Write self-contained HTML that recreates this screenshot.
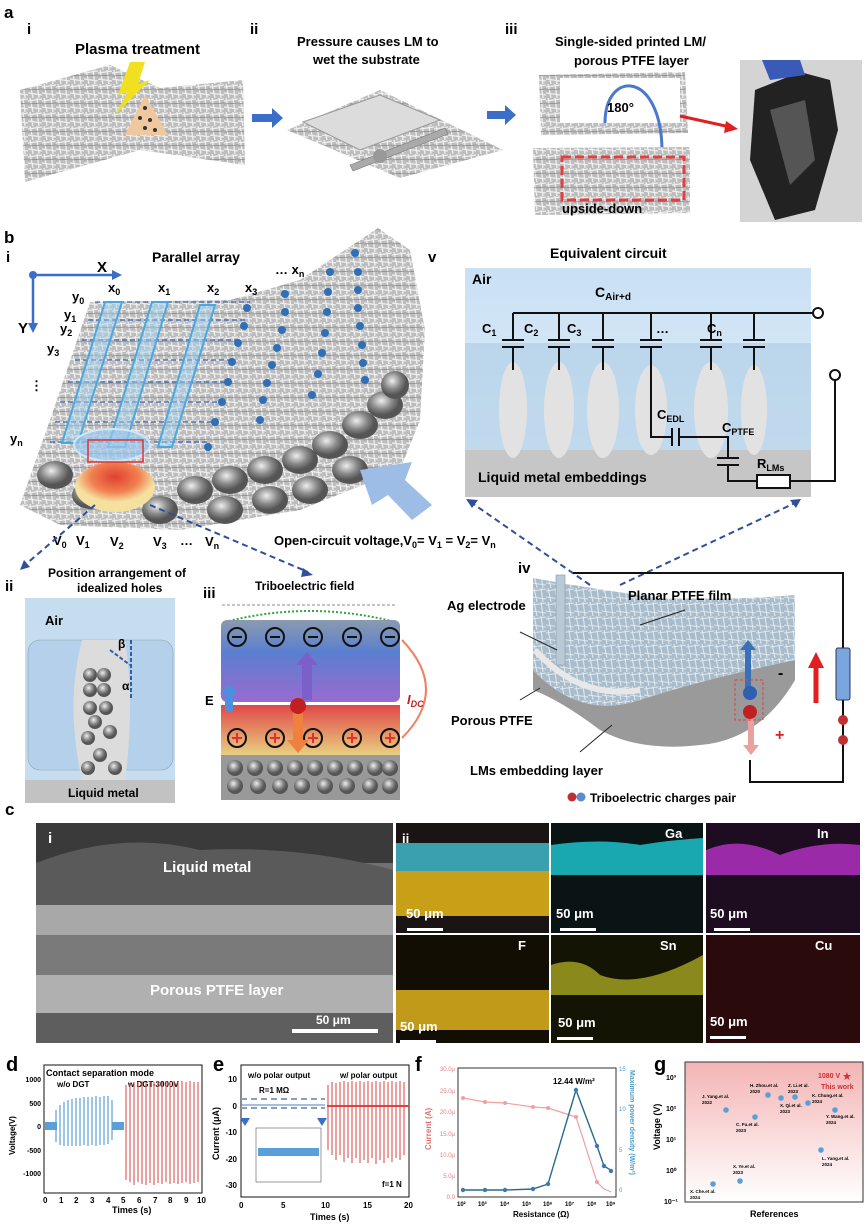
<!DOCTYPE html>
<html><head><meta charset="utf-8"><style>
body{margin:0;background:#fff;width:866px;height:1225px;overflow:hidden}
svg{display:block}
text{font-family:"Liberation Sans",sans-serif}
</style></head><body>
<svg width="866" height="1225" viewBox="0 0 866 1225" xmlns="http://www.w3.org/2000/svg">
<defs>
<pattern id="fib" width="14" height="14" patternUnits="userSpaceOnUse">
<rect width="14" height="14" fill="#bdbdbd"/>
<path d="M0 3L14 1M0 9L14 11M2 0L5 14M9 0L11 14" stroke="#efefef" stroke-width="1.3"/>
<path d="M0 6L14 5" stroke="#888" stroke-width="0.8"/>
</pattern>
<pattern id="fibb" width="14" height="14" patternUnits="userSpaceOnUse">
<rect width="14" height="14" fill="#a9bccb"/>
<path d="M0 3L14 1M0 9L14 11M2 0L5 14M9 0L11 14" stroke="#dfe8ef" stroke-width="1.1"/>
</pattern>
<linearGradient id="air" x1="0" y1="0" x2="0" y2="1"><stop offset="0" stop-color="#c9e0f3"/><stop offset="1" stop-color="#e6f1fa"/></linearGradient>
<linearGradient id="tt" x1="0" y1="0" x2="0" y2="1"><stop offset="0" stop-color="#8a9ab0"/><stop offset="0.4" stop-color="#5a7fd0"/><stop offset="1" stop-color="#9a6ad0"/></linearGradient>
<linearGradient id="tb" x1="0" y1="0" x2="0" y2="1"><stop offset="0" stop-color="#e04848"/><stop offset="1" stop-color="#e8d080"/></linearGradient>
<linearGradient id="pinkbg" x1="0" y1="0" x2="0" y2="1"><stop offset="0" stop-color="#f4b4b4"/><stop offset="1" stop-color="#fff"/></linearGradient>
<radialGradient id="hot" cx="0.5" cy="0.3"><stop offset="0" stop-color="#e04030"/><stop offset="0.6" stop-color="#f08050"/><stop offset="1" stop-color="#f5e0a0"/></radialGradient>
<radialGradient id="sph" cx="0.4" cy="0.35"><stop offset="0" stop-color="#eee"/><stop offset="0.6" stop-color="#888"/><stop offset="1" stop-color="#555"/></radialGradient>
</defs>

<!-- ===== a ===== -->
<text x="4" y="18" font-size="17" font-weight="bold">a</text>
<text x="27" y="34" font-size="15" font-weight="bold">i</text>
<text x="250" y="34" font-size="15" font-weight="bold">ii</text>
<text x="505" y="34" font-size="15" font-weight="bold">iii</text>
<text x="75" y="54" font-size="15" font-weight="bold">Plasma treatment</text>
<text x="297" y="46" font-size="13" font-weight="bold">Pressure causes LM to</text>
<text x="313" y="64" font-size="13" font-weight="bold">wet the substrate</text>
<text x="555" y="46" font-size="13" font-weight="bold">Single-sided printed LM/</text>
<text x="574" y="65" font-size="13" font-weight="bold">porous PTFE layer</text>
<polygon points="20,90 110,65 160,88 243,80 245,165 140,150 25,182" fill="url(#fib)"/>
<polygon points="130,62 118,95 128,92 115,115 150,80 138,84 145,62" fill="#f0e020"/>
<polygon points="125,135 145,95 168,135" fill="#efc8a0"/>
<g fill="#333"><circle cx="145" cy="108" r="2"/><circle cx="140" cy="118" r="2"/><circle cx="150" cy="120" r="2"/><circle cx="145" cy="128" r="2"/><circle cx="155" cy="130" r="2"/></g>
<polygon points="252,114 272,114 272,108 283,118 272,128 272,122 252,122" fill="#3a6ec8"/>
<polygon points="287,130 380,90 503,150 400,178" fill="url(#fib)"/>
<polygon points="303,122 380,95 440,120 360,150" fill="#dcdcdc" stroke="#999"/>
<polygon points="350,165 445,128 448,134 353,171" fill="#aaa" stroke="#777" stroke-width="0.6"/>
<circle cx="380" cy="156" r="7" fill="#999"/>
<polygon points="487,111 505,111 505,105 516,115 505,125 505,119 487,119" fill="#3a6ec8"/>
<polygon points="539,75 685,72 688,133 541,135" fill="url(#fib)"/>
<rect x="560" y="78" width="120" height="45" fill="#fff"/>
<path d="M605 123 C605 70 660 70 662 148" stroke="#4a78cc" stroke-width="3" fill="none"/>
<text x="607" y="112" font-size="13" font-weight="bold">180°</text>
<polygon points="533,148 690,147 690,213 535,215" fill="url(#fib)"/>
<rect x="562" y="157" width="122" height="43" fill="none" stroke="#e04040" stroke-width="3" stroke-dasharray="9 4"/>
<text x="562" y="213" font-size="13" font-weight="bold">upside-down</text>
<path d="M680 116 L730 127" stroke="#e02020" stroke-width="3"/>
<polygon points="738,129 726,121 724,133" fill="#e02020"/>
<rect x="740" y="60" width="122" height="162" fill="#d4d4d4"/>
<polygon points="755,90 800,72 830,80 838,130 815,210 775,220 750,160" fill="#222"/>
<polygon points="770,110 805,100 815,160 790,185" fill="#555"/>
<polygon points="762,60 800,60 805,75 770,80" fill="#3a5ab8"/>

<!-- ===== b ===== -->
<text x="4" y="243" font-size="17" font-weight="bold">b</text>
<text x="6" y="262" font-size="15" font-weight="bold">i</text>
<text x="152" y="262" font-size="14" font-weight="bold">Parallel array</text>
<text x="428" y="262" font-size="15" font-weight="bold">v</text>
<polygon points="90,302 230,300 300,280 378,228 410,250 425,330 420,420 400,470 300,510 180,530 60,525 20,505 50,420" fill="url(#fib)"/>
<g fill="url(#sph)">
<ellipse cx="55" cy="475" rx="18" ry="14"/><ellipse cx="90" cy="495" rx="18" ry="14"/><ellipse cx="195" cy="490" rx="18" ry="14"/><ellipse cx="230" cy="480" rx="18" ry="14"/><ellipse cx="265" cy="470" rx="18" ry="14"/><ellipse cx="300" cy="460" rx="18" ry="14"/><ellipse cx="330" cy="445" rx="18" ry="14"/><ellipse cx="360" cy="425" rx="18" ry="14"/><ellipse cx="385" cy="405" rx="18" ry="14"/><ellipse cx="395" cy="385" rx="14" ry="14"/>
<ellipse cx="160" cy="510" rx="18" ry="14"/><ellipse cx="225" cy="510" rx="18" ry="14"/><ellipse cx="270" cy="500" rx="18" ry="14"/><ellipse cx="310" cy="490" rx="18" ry="14"/><ellipse cx="350" cy="470" rx="18" ry="14"/>
</g>
<g fill="#2f6fb5">
<circle cx="247" cy="308" r="4"/><circle cx="244" cy="326" r="4"/><circle cx="238" cy="343" r="4"/><circle cx="232" cy="362" r="4"/><circle cx="228" cy="382" r="4"/><circle cx="222" cy="402" r="4"/><circle cx="215" cy="422" r="4"/><circle cx="208" cy="447" r="4"/>
<circle cx="285" cy="294" r="4"/><circle cx="285" cy="312" r="4"/><circle cx="282" cy="330" r="4"/><circle cx="277" cy="348" r="4"/><circle cx="272" cy="365" r="4"/><circle cx="267" cy="383" r="4"/><circle cx="263" cy="400" r="4"/><circle cx="260" cy="420" r="4"/>
<circle cx="330" cy="272" r="4"/><circle cx="328" cy="292" r="4"/><circle cx="327" cy="312" r="4"/><circle cx="325" cy="333" r="4"/><circle cx="322" cy="353" r="4"/><circle cx="318" cy="374" r="4"/><circle cx="312" cy="395" r="4"/>
<circle cx="355" cy="253" r="4"/><circle cx="358" cy="272" r="4"/><circle cx="358" cy="290" r="4"/><circle cx="358" cy="308" r="4"/><circle cx="360" cy="326" r="4"/><circle cx="362" cy="345" r="4"/><circle cx="363" cy="363" r="4"/><circle cx="365" cy="380" r="4"/>
</g>
<g stroke="#3a60b0" stroke-width="1.2" stroke-dasharray="5 3" fill="none">
<path d="M95 302 H250 M88 320 H245 M82 340 H240 M75 360 H235 M68 382 H228 M60 402 H222 M55 422 H215 M50 442 H210"/>
</g>
<g fill="#9fd2f5" fill-opacity="0.45" stroke="#4aa8e0" stroke-width="2">
<polygon points="105,302 122,302 78,443 62,443"/>
<polygon points="152,302 168,302 125,447 108,447"/>
<polygon points="200,305 215,305 172,447 158,447"/>
</g>
<ellipse cx="115" cy="487" rx="40" ry="25" fill="url(#hot)"/>
<ellipse cx="112" cy="445" rx="38" ry="16" fill="#9ac8ee" fill-opacity="0.7" stroke="#cfe6f7" stroke-width="2"/>
<rect x="88" y="440" width="55" height="22" fill="none" stroke="#e03030" stroke-width="1.5"/>
<path d="M33 275 V325 M33 275 H115" stroke="#3a6ec8" stroke-width="2.5"/>
<polygon points="122,275 112,270 112,280" fill="#3a6ec8"/><polygon points="33,333 28,323 38,323" fill="#3a6ec8"/>
<circle cx="33" cy="275" r="4" fill="#3a6ec8"/>
<text x="97" y="272" font-size="15" font-weight="bold">X</text>
<text x="18" y="333" font-size="15" font-weight="bold">Y</text>
<g font-size="13" font-weight="bold"><text x="72" y="301">y<tspan font-size="9" dy="3">0</tspan></text><text x="108" y="292">x<tspan font-size="9" dy="3">0</tspan></text><text x="64" y="319">y<tspan font-size="9" dy="3">1</tspan></text><text x="60" y="333">y<tspan font-size="9" dy="3">2</tspan></text><text x="47" y="353">y<tspan font-size="9" dy="3">3</tspan></text><text x="10" y="443">y<tspan font-size="9" dy="3">n</tspan></text><text x="30" y="390">⋮</text>
<text x="158" y="292">x<tspan font-size="9" dy="3">1</tspan></text><text x="207" y="292">x<tspan font-size="9" dy="3">2</tspan></text><text x="245" y="292">x<tspan font-size="9" dy="3">3</tspan></text><text x="275" y="274">… x<tspan font-size="9" dy="3">n</tspan></text>
<text x="53" y="545">V<tspan font-size="9" dy="3">0</tspan></text><text x="76" y="545">V<tspan font-size="9" dy="3">1</tspan></text><text x="110" y="546">V<tspan font-size="9" dy="3">2</tspan></text><text x="153" y="546">V<tspan font-size="9" dy="3">3</tspan></text><text x="180" y="545">…</text><text x="205" y="546">V<tspan font-size="9" dy="3">n</tspan></text></g>
<text x="274" y="545" font-size="13" font-weight="bold">Open-circuit voltage,V<tspan font-size="9" dy="3">0</tspan><tspan dy="-3">= V</tspan><tspan font-size="9" dy="3">1</tspan><tspan dy="-3"> = V</tspan><tspan font-size="9" dy="3">2</tspan><tspan dy="-3">= V</tspan><tspan font-size="9" dy="3">n</tspan></text>
<polygon points="360,470 412,462 405,480 432,505 412,520 388,495 372,505" fill="#9dbde6"/>

<!-- circuit -->
<text x="550" y="258" font-size="14" font-weight="bold">Equivalent circuit</text>
<rect x="465" y="268" width="346" height="229" fill="url(#air)"/>
<rect x="465" y="343" width="346" height="107" fill="#a8c8e4" opacity="0.55"/>
<rect x="465" y="450" width="346" height="47" fill="#c6c6c6"/>
<g fill="#e2e2e2">
<ellipse cx="513" cy="410" rx="14" ry="48"/><ellipse cx="559" cy="410" rx="15" ry="48"/><ellipse cx="603" cy="410" rx="16" ry="48"/><ellipse cx="651" cy="410" rx="16" ry="45"/><ellipse cx="711" cy="410" rx="17" ry="48"/><ellipse cx="754" cy="410" rx="13" ry="45"/>
</g>
<text x="472" y="284" font-size="14" font-weight="bold">Air</text>
<text x="595" y="297" font-size="14" font-weight="bold">C<tspan font-size="10" dy="3">Air+d</tspan></text>
<text x="478" y="482" font-size="14" font-weight="bold">Liquid metal embeddings</text>
<g stroke="#111" stroke-width="2" fill="none">
<path d="M513 313 H813"/><circle cx="818" cy="313" r="5" fill="#fff"/>
<path d="M513 313 V340 M559 313 V340 M603 313 V340 M651 313 V340 M711 313 V340 M754 313 V340"/>
<path d="M513 347 V370 M559 347 V370 M603 347 V370 M711 347 V370 M754 347 V370"/>
<path d="M502 340 h22 M502 347 h22 M548 340 h22 M548 347 h22 M592 340 h22 M592 347 h22 M640 340 h22 M640 347 h22 M700 340 h22 M700 347 h22 M743 340 h22 M743 347 h22"/>
<path d="M651 347 V437 H672 M679 437 H728 V458"/>
<path d="M672 428 v18 M679 428 v18"/>
<path d="M717 458 h22 M717 465 h22 M728 465 V481 H757 M790 481 H835 V380"/>
<rect x="757" y="475" width="33" height="13" fill="#fff"/>
<circle cx="835" cy="375" r="5" fill="#fff"/>
</g>
<g font-size="13" font-weight="bold"><text x="482" y="333">C<tspan font-size="9" dy="3">1</tspan></text><text x="524" y="333">C<tspan font-size="9" dy="3">2</tspan></text><text x="567" y="333">C<tspan font-size="9" dy="3">3</tspan></text><text x="656" y="333">…</text><text x="707" y="333">C<tspan font-size="9" dy="3">n</tspan></text>
<text x="657" y="419">C<tspan font-size="9" dy="3">EDL</tspan></text><text x="722" y="432">C<tspan font-size="9" dy="3">PTFE</tspan></text><text x="757" y="468">R<tspan font-size="9" dy="3">LMs</tspan></text></g>
<g stroke="#2f4f9a" stroke-width="2" stroke-dasharray="6 4" fill="none">
<path d="M590 585 L472 503"/><path d="M620 585 L795 503"/>
<path d="M95 505 L25 565"/><path d="M150 505 L308 572"/>
</g>
<polygon points="466,499 478,500 472,508" fill="#2f4f9a"/><polygon points="801,499 790,500 796,508" fill="#2f4f9a"/>
<polygon points="20,570 24,560 30,567" fill="#2f4f9a"/><polygon points="313,575 303,568 301,577" fill="#2f4f9a"/>

<!-- ii -->
<text x="5" y="591" font-size="15" font-weight="bold">ii</text>
<text x="48" y="577" font-size="12" font-weight="bold">Position arrangement of</text>
<text x="77" y="592" font-size="12" font-weight="bold">idealized holes</text>
<rect x="25" y="598" width="150" height="205" fill="#c6ddf0"/>
<rect x="25" y="780" width="150" height="23" fill="#c2c2c2"/>
<rect x="28" y="640" width="145" height="130" rx="12" fill="#b4d0ea" stroke="#8aa" stroke-width="0.6"/>
<path d="M82 640 Q65 705 82 780 L125 780 Q135 705 125 640 Z" fill="#dcdcdc"/>
<g fill="url(#sph)"><circle cx="90" cy="675" r="7"/><circle cx="104" cy="675" r="7"/><circle cx="90" cy="690" r="7"/><circle cx="104" cy="690" r="7"/><circle cx="90" cy="708" r="7"/><circle cx="106" cy="708" r="7"/><circle cx="95" cy="722" r="7"/><circle cx="110" cy="732" r="7"/><circle cx="88" cy="738" r="7"/><circle cx="100" cy="755" r="7"/><circle cx="88" cy="768" r="7"/><circle cx="115" cy="768" r="7"/></g>
<path d="M131 640 V700 M110 650 L130 665" stroke="#2f5fa5" stroke-width="2" stroke-dasharray="4 2"/>
<text x="45" y="625" font-size="13" font-weight="bold">Air</text>
<text x="68" y="797" font-size="12" font-weight="bold">Liquid metal</text>
<text x="118" y="648" font-size="12" font-weight="bold">β</text><text x="122" y="690" font-size="12" font-weight="bold">α</text>
<!-- iii -->
<text x="203" y="598" font-size="15" font-weight="bold">iii</text>
<text x="255" y="590" font-size="12" font-weight="bold">Triboelectric field</text>
<path d="M222 605 H396" stroke="#889" stroke-dasharray="3 2"/>
<path d="M225 622 Q310 600 395 622" stroke="#30a040" stroke-width="2" stroke-dasharray="2 2" fill="none"/>
<rect x="221" y="620" width="179" height="82" rx="6" fill="url(#tt)"/>
<rect x="221" y="705" width="179" height="50" fill="url(#tb)"/>
<rect x="221" y="755" width="179" height="45" fill="#999"/>
<g fill="url(#sph)"><circle cx="235" cy="768" r="8"/><circle cx="255" cy="768" r="8"/><circle cx="275" cy="768" r="8"/><circle cx="295" cy="768" r="8"/><circle cx="315" cy="768" r="8"/><circle cx="335" cy="768" r="8"/><circle cx="355" cy="768" r="8"/><circle cx="375" cy="768" r="8"/><circle cx="390" cy="768" r="8"/>
<circle cx="235" cy="786" r="8"/><circle cx="258" cy="786" r="8"/><circle cx="280" cy="786" r="8"/><circle cx="302" cy="786" r="8"/><circle cx="325" cy="786" r="8"/><circle cx="347" cy="786" r="8"/><circle cx="370" cy="786" r="8"/><circle cx="390" cy="786" r="8"/></g>
<g fill="none" stroke="#111" stroke-width="2"><circle cx="237" cy="637" r="9"/><circle cx="275" cy="637" r="9"/><circle cx="313" cy="637" r="9"/><circle cx="352" cy="637" r="9"/><circle cx="390" cy="637" r="9"/>
<circle cx="237" cy="738" r="9"/><circle cx="275" cy="738" r="9"/><circle cx="313" cy="738" r="9"/><circle cx="352" cy="738" r="9"/><circle cx="390" cy="738" r="9"/></g>
<g stroke="#111" stroke-width="2"><path d="M232 637h10M270 637h10M308 637h10M347 637h10M385 637h10"/></g>
<g stroke="#e03030" stroke-width="2"><path d="M232 738h10M270 738h10M308 738h10M347 738h10M385 738h10M237 733v10M275 733v10M313 733v10M352 733v10M390 733v10"/></g>
<path d="M302 700 v-35 h-6 l11 -13 l11 13 h-6 v35 Z" fill="#7a60c8"/>
<path d="M293 710 v30 h-6 l11 13 l11 -13 h-6 v-30 Z" fill="#f08040"/>
<circle cx="298" cy="706" r="8" fill="#c02020"/>
<path d="M225 712 v-18 h-5 l9 -10 l9 10 h-5 v18 Z" fill="#4a90e0"/>
<path d="M402 640 Q450 690 402 738" stroke="#f08060" stroke-width="2" fill="none"/>
<text x="205" y="705" font-size="13" font-weight="bold">E</text>
<text x="407" y="704" font-size="13" font-weight="bold" fill="#c02020" font-style="italic">I<tspan font-size="9" dy="3">DC</tspan></text>
<!-- iv -->
<text x="518" y="573" font-size="15" font-weight="bold">iv</text>
<path d="M533 578 Q600 590 660 598 Q740 600 795 595 L795 660 Q700 680 640 700 Q580 720 533 670 Z" fill="url(#fibb)"/>
<path d="M533 670 Q580 720 640 700 Q700 680 795 660 L795 680 Q760 740 700 745 Q640 752 600 730 Q560 700 533 690 Z" fill="#9a9a9a"/>
<path d="M535 650 Q580 700 640 690" stroke="#e8e8e8" stroke-width="6" fill="none"/>
<rect x="556" y="575" width="9" height="90" fill="#b9c9d6" stroke="#8a9aa8" stroke-width="0.6"/>
<path d="M573 573 H843 V648 M843 700 V782 H750 V760" stroke="#111" stroke-width="2" fill="none"/>
<rect x="836" y="648" width="14" height="52" rx="2" fill="#7aa6e0" stroke="#335"/>
<circle cx="843" cy="720" r="5" fill="#c03030"/><circle cx="843" cy="740" r="5" fill="#c03030"/>
<path d="M816 703 V665" stroke="#e02020" stroke-width="5"/><polygon points="808,668 824,668 816,652" fill="#e02020"/>
<path d="M745 690 V650 h-5 l8 -10 l8 10 h-5 V690 Z" fill="#3a70b8"/>
<path d="M748 712 V745 h-5 l8 10 l8 -10 h-5 V712 Z" fill="#e8a0a0"/>
<rect x="735" y="680" width="28" height="40" fill="none" stroke="#e04040" stroke-dasharray="3 2"/>
<circle cx="750" cy="693" r="7" fill="#2f60b0"/><circle cx="750" cy="712" r="7" fill="#c02020"/>
<path d="M520 632 L557 650 M520 700 L540 688 M580 752 L612 725 M640 625 L685 610" stroke="#222"/>
<text x="778" y="678" font-size="16" font-weight="bold">-</text><text x="775" y="740" font-size="16" font-weight="bold" fill="#e02020">+</text>
<text x="447" y="610" font-size="13" font-weight="bold">Ag electrode</text>
<text x="628" y="600" font-size="13" font-weight="bold">Planar PTFE film</text>
<text x="451" y="725" font-size="13" font-weight="bold">Porous PTFE</text>
<text x="470" y="775" font-size="13" font-weight="bold">LMs embedding layer</text>
<circle cx="572" cy="797" r="4.5" fill="#c03030"/><circle cx="581" cy="797" r="4.5" fill="#5a8ad0"/>
<text x="590" y="802" font-size="12" font-weight="bold">Triboelectric charges pair</text>

<!-- ===== c ===== -->
<text x="5" y="815" font-size="17" font-weight="bold">c</text>
<rect x="36" y="823" width="357" height="220" fill="#707070"/>
<rect x="36" y="823" width="357" height="40" fill="#3a3a3a"/>
<path d="M36 863 Q120 830 200 850 Q300 845 393 870 L393 905 L36 905 Z" fill="#5a5a5a"/>
<rect x="36" y="905" width="357" height="30" fill="#a8a8a8"/>
<rect x="36" y="935" width="357" height="40" fill="#7a7a7a"/>
<rect x="36" y="975" width="357" height="38" fill="#b0b0b0"/>
<rect x="36" y="1013" width="357" height="30" fill="#5e5e5e"/>
<text x="48" y="843" font-size="15" font-weight="bold" fill="#fff">i</text>
<text x="163" y="872" font-size="15" font-weight="bold" fill="#fff">Liquid metal</text>
<text x="150" y="995" font-size="15" font-weight="bold" fill="#fff">Porous PTFE layer</text>
<text x="316" y="1024" font-size="12" font-weight="bold" fill="#fff">50 μm</text>
<rect x="292" y="1029" width="86" height="4" fill="#fff"/>
<rect x="396" y="823" width="464" height="220" fill="#fff"/>
<rect x="396" y="823" width="153" height="110" fill="#1a1414"/>
<rect x="396" y="843" width="153" height="28" fill="#3aa0b0"/>
<rect x="396" y="871" width="153" height="45" fill="#c8a018"/>
<rect x="551" y="823" width="152" height="110" fill="#0a1414"/>
<path d="M551 845 Q600 838 640 845 Q670 840 703 838 L703 875 L551 875 Z" fill="#1aa8b0"/>
<rect x="706" y="823" width="154" height="110" fill="#1e0c20"/>
<path d="M706 850 Q740 835 780 855 Q820 840 860 845 L860 875 L706 875 Z" fill="#9a2aa8"/>
<rect x="396" y="935" width="153" height="108" fill="#120e04"/>
<rect x="396" y="990" width="153" height="40" fill="#c09a18"/>
<rect x="551" y="935" width="152" height="108" fill="#141404"/>
<path d="M551 965 Q580 955 600 975 Q640 990 703 955 L703 995 L551 995 Z" fill="#8a8a1c"/>
<rect x="706" y="935" width="154" height="108" fill="#2a0a0a"/>
<g fill="#fff" font-size="13" font-weight="bold">
<text x="402" y="843">ii</text><text x="665" y="838">Ga</text><text x="817" y="838">In</text>
<text x="518" y="950">F</text><text x="660" y="950">Sn</text><text x="815" y="950">Cu</text>
<text x="406" y="918">50 μm</text><text x="556" y="918">50 μm</text><text x="710" y="918">50 μm</text>
<text x="400" y="1031">50 μm</text><text x="558" y="1027">50 μm</text><text x="710" y="1026">50 μm</text>
</g>
<g fill="#fff"><rect x="407" y="928" width="36" height="3"/><rect x="560" y="928" width="36" height="3"/><rect x="714" y="928" width="36" height="3"/><rect x="400" y="1040" width="36" height="3"/><rect x="557" y="1037" width="36" height="3"/><rect x="710" y="1036" width="36" height="3"/></g>

<!-- ===== d ===== -->
<text x="6" y="1071" font-size="20" font-weight="bold">d</text>
<rect x="44" y="1065" width="158" height="128" fill="none" stroke="#111"/>
<text x="46" y="1076" font-size="9" font-weight="bold">Contact separation mode</text>
<text x="57" y="1087" font-size="8" font-weight="bold" font-family="Liberation Serif">w/o DGT</text>
<text x="128" y="1087" font-size="8" font-weight="bold" font-family="Liberation Serif">w DGT-3000V</text>
<g font-size="7" font-weight="bold" text-anchor="end"><text x="41" y="1082">1000</text><text x="41" y="1106">500</text><text x="41" y="1129">0</text><text x="41" y="1153">-500</text><text x="41" y="1176">-1000</text></g>
<text x="15" y="1155" font-size="8" font-weight="bold" transform="rotate(-90 15 1155)">Voltage(V)</text>
<rect x="45" y="1122" width="12" height="8" fill="#5a9fd8"/><rect x="112" y="1122" width="12" height="8" fill="#5a9fd8"/>
<g stroke="#5a9fd8" stroke-width="1.2"><path d="M56 1110 V1142 M60 1105 V1145 M64 1102 V1146 M68 1100 V1146 M72 1099 V1146 M76 1098 V1146 M80 1098 V1146 M84 1097 V1145 M88 1097 V1146 M92 1097 V1145 M96 1096 V1146 M100 1097 V1145 M104 1096 V1145 M108 1096 V1144 M112 1100 V1140"/></g>
<g stroke="#e06060" stroke-width="1.2"><path d="M126 1085 V1180 M130 1083 V1182 M134 1082 V1185 M138 1082 V1182 M142 1081 V1184 M146 1082 V1185 M150 1081 V1183 M154 1082 V1185 M158 1081 V1183 M162 1082 V1184 M166 1081 V1182 M170 1082 V1184 M174 1081 V1183 M178 1082 V1184 M182 1081 V1183 M186 1082 V1182 M190 1081 V1184 M194 1082 V1183 M198 1082 V1182"/></g>
<g font-size="8" font-weight="bold"><text x="43" y="1203">0</text><text x="59" y="1203">1</text><text x="74" y="1203">2</text><text x="90" y="1203">3</text><text x="106" y="1203">4</text><text x="121" y="1203">5</text><text x="137" y="1203">6</text><text x="153" y="1203">7</text><text x="168" y="1203">8</text><text x="184" y="1203">9</text><text x="197" y="1203">10</text></g>
<text x="112" y="1213" font-size="9" font-weight="bold">Times (s)</text>
<!-- ===== e ===== -->
<text x="213" y="1071" font-size="20" font-weight="bold">e</text>
<rect x="241" y="1065" width="168" height="132" fill="none" stroke="#111"/>
<text x="248" y="1078" font-size="8" font-weight="bold">w/o polar output</text>
<text x="340" y="1078" font-size="8" font-weight="bold">w/ polar output</text>
<text x="259" y="1093" font-size="8" font-weight="bold" font-family="Liberation Serif">R=1 MΩ</text>
<path d="M241 1099 H325 M241 1108 H325" stroke="#8a9cc0" stroke-width="2" stroke-dasharray="6 4"/>
<path d="M241 1105 H325" stroke="#4a80c0" stroke-width="1"/>
<polygon points="240,1118 250,1118 245,1126" fill="#3a6ec8"/><polygon points="317,1118 327,1118 322,1126" fill="#3a6ec8"/>
<rect x="256" y="1128" width="65" height="54" fill="#fff" stroke="#555" stroke-width="0.6"/>
<rect x="258" y="1148" width="61" height="8" fill="#5a9fd8"/>
<g stroke="#e06060" stroke-width="1.2"><path d="M328 1085 V1150 M332 1082 V1155 M336 1083 V1160 M340 1082 V1155 M344 1081 V1162 M348 1082 V1158 M352 1081 V1163 M356 1082 V1158 M360 1081 V1163 M364 1082 V1160 M368 1081 V1163 M372 1082 V1158 M376 1081 V1164 M380 1082 V1160 M384 1081 V1163 M388 1082 V1158 M392 1081 V1162 M396 1082 V1158 M400 1081 V1160 M404 1082 V1155"/></g>
<path d="M327 1106 H409" stroke="#e04040" stroke-width="2"/>
<text x="382" y="1187" font-size="8" font-weight="bold" font-family="Liberation Serif">f=1 N</text>
<g font-size="8" font-weight="bold" text-anchor="end"><text x="237" y="1082">10</text><text x="237" y="1109">0</text><text x="237" y="1135">-10</text><text x="237" y="1162">-20</text><text x="237" y="1188">-30</text></g>
<text x="219" y="1160" font-size="9" font-weight="bold" transform="rotate(-90 219 1160)">Current (μA)</text>
<g font-size="8" font-weight="bold"><text x="239" y="1208">0</text><text x="281" y="1208">5</text><text x="321" y="1208">10</text><text x="363" y="1208">15</text><text x="404" y="1208">20</text></g>
<text x="310" y="1220" font-size="9" font-weight="bold">Times (s)</text>
<!-- ===== f ===== -->
<text x="415" y="1071" font-size="20" font-weight="bold">f</text>
<rect x="458" y="1068" width="158" height="129" fill="none" stroke="#333"/>
<text x="553" y="1084" font-size="8" font-weight="bold">12.44 W/m²</text>
<polyline points="463,1098 485,1102 505,1103 533,1107 548,1108 576,1117 597,1182 604,1189 609,1191 611,1192" fill="none" stroke="#f0a0a0" stroke-width="1.2"/>
<g fill="#f0a0a0"><circle cx="463" cy="1098" r="2"/><circle cx="485" cy="1102" r="2"/><circle cx="505" cy="1103" r="2"/><circle cx="533" cy="1107" r="2"/><circle cx="548" cy="1108" r="2"/><circle cx="576" cy="1117" r="2"/><circle cx="597" cy="1182" r="2"/></g>
<polyline points="463,1190 485,1190 505,1190 533,1189 548,1184 576,1090 597,1146 604,1166 609,1169 611,1171" fill="none" stroke="#2a6a88" stroke-width="1.4"/>
<g fill="#3a7ab0"><circle cx="463" cy="1190" r="2.2"/><circle cx="485" cy="1190" r="2.2"/><circle cx="505" cy="1190" r="2.2"/><circle cx="533" cy="1189" r="2.2"/><circle cx="548" cy="1184" r="2.2"/><circle cx="576" cy="1090" r="2.2"/><circle cx="597" cy="1146" r="2.2"/><circle cx="604" cy="1166" r="2.2"/><circle cx="611" cy="1171" r="2.2"/></g>
<g font-size="6" fill="#e08080" text-anchor="end"><text x="455" y="1071">30.0μ</text><text x="455" y="1093">25.0μ</text><text x="455" y="1114">20.0μ</text><text x="455" y="1136">15.0μ</text><text x="455" y="1157">10.0μ</text><text x="455" y="1178">5.0μ</text><text x="455" y="1199">0.0</text></g>
<g font-size="6" fill="#4aa0c8"><text x="619" y="1071">15</text><text x="619" y="1111">10</text><text x="619" y="1152">5</text><text x="619" y="1192">0</text></g>
<text x="431" y="1150" font-size="8" font-weight="bold" fill="#e07070" transform="rotate(-90 431 1150)">Current (A)</text>
<text x="630" y="1070" font-size="7" font-weight="bold" fill="#4aa0c8" transform="rotate(90 630 1070)">Maximum power density (W/m²)</text>
<g font-size="6" font-weight="bold"><text x="457" y="1206">10²</text><text x="478" y="1206">10³</text><text x="500" y="1206">10⁴</text><text x="522" y="1206">10⁵</text><text x="543" y="1206">10⁶</text><text x="565" y="1206">10⁷</text><text x="587" y="1206">10⁸</text><text x="606" y="1206">10⁹</text></g>
<text x="513" y="1217" font-size="8" font-weight="bold">Resistance (Ω)</text>
<!-- ===== g ===== -->
<text x="654" y="1071" font-size="20" font-weight="bold">g</text>
<rect x="685" y="1062" width="178" height="140" fill="url(#pinkbg)" stroke="#333"/>
<g font-size="7" font-weight="bold"><text x="666" y="1080">10³</text><text x="666" y="1111">10²</text><text x="666" y="1142">10¹</text><text x="666" y="1173">10⁰</text><text x="664" y="1204">10⁻¹</text></g>
<text x="818" y="1078" font-size="7" font-weight="bold" fill="#d03030">1080 V</text>
<text x="821" y="1089" font-size="7" font-weight="bold" fill="#d03030">This work</text>
<text x="842" y="1080" font-size="11" fill="#d03030">★</text>
<g fill="#5a9fd8"><circle cx="726" cy="1110" r="2.8"/><circle cx="755" cy="1117" r="2.8"/><circle cx="768" cy="1095" r="2.8"/><circle cx="781" cy="1098" r="2.8"/><circle cx="795" cy="1097" r="2.8"/><circle cx="808" cy="1103" r="2.8"/><circle cx="835" cy="1110" r="2.8"/><circle cx="821" cy="1150" r="2.8"/><circle cx="740" cy="1181" r="2.8"/><circle cx="713" cy="1184" r="2.8"/></g>
<g font-size="4.5" font-weight="bold"><text x="702" y="1098">J. Yang.et al.</text><text x="702" y="1104">2022</text><text x="750" y="1087">H. Zhou.et al.</text><text x="750" y="1093">2020</text><text x="788" y="1087">Z. Li.et al.</text><text x="788" y="1093">2023</text><text x="812" y="1097">K. Chung.et al.</text><text x="812" y="1103">2024</text><text x="826" y="1118">Y. Wang.et al.</text><text x="826" y="1124">2024</text><text x="736" y="1126">C. Fu.et al.</text><text x="736" y="1132">2023</text><text x="780" y="1107">X. Qi.et al.</text><text x="780" y="1113">2023</text><text x="822" y="1160">L. Yang.et al.</text><text x="822" y="1166">2024</text><text x="733" y="1168">X. Ye.et al.</text><text x="733" y="1174">2023</text><text x="690" y="1193">X. Che.et al.</text><text x="690" y="1199">2024</text></g>
<text x="660" y="1150" font-size="9" font-weight="bold" transform="rotate(-90 660 1150)">Voltage (V)</text>
<text x="750" y="1217" font-size="9" font-weight="bold">References</text>
</svg>
</body></html>
